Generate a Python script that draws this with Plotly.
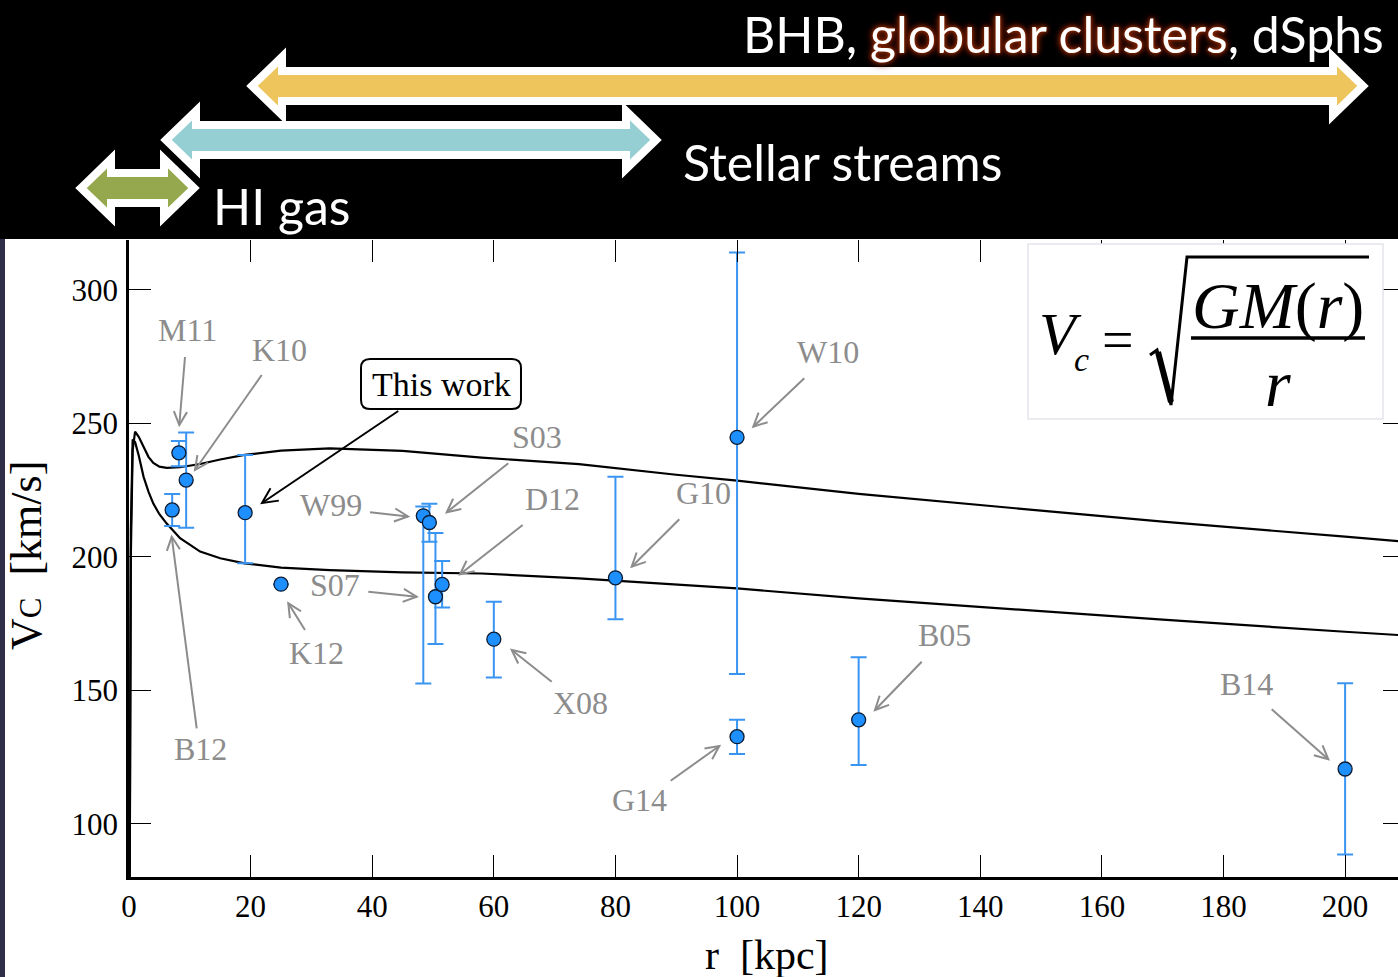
import math
import plotly.graph_objects as go

# ---------------- data ----------------
names = ["B12", "M11", "K10", "This work", "K12", "W99", "S03", "S07",
         "D12", "X08", "G10", "W10", "G14", "B05", "B14"]
r_obs = [7.1, 8.2, 9.4, 19.1, 25.0, 48.4, 49.4, 50.4, 51.5, 60.0, 80.0, 100.0, 100.0, 120.0, 200.0]
v_obs = [217.6, 239.0, 228.8, 216.6, 189.8, 215.4, 212.9, 185.1, 189.7, 169.2, 192.2, 244.8, 132.7, 139.0, 120.6]
err_plus = [6.0, 4.4, 17.8, 21.6, None, 3.5, 7.0, 23.9, 8.8, 14.0, 37.8, 69.2, 6.3, 23.4, 32.1]
err_minus = [6.0, 5.0, 17.9, 19.0, None, 62.8, 7.2, 17.7, 8.6, 14.3, 15.5, 88.6, 6.5, 16.9, 32.0]

r_model = [0, 0.3, 0.6, 1.0, 1.6, 2.4, 3.2, 4.0, 5.0, 6.2, 8.4, 11.7, 15, 19, 25, 33, 45,
           58, 74, 90, 100, 120, 143, 170, 200, 210]
v_upper = [0, 200, 240, 246.9, 245, 241, 237.5, 235.2, 233.8, 233.4, 233.6, 234.8, 236.5, 238.2,
           239.8, 240.7, 239.7, 237.2, 234.8, 230.8, 228.6, 223.6, 218.7, 213.2, 207.6, 205.7]
v_lower = [0, 210, 244, 243, 238, 230, 224.5, 220, 216, 212.5, 207, 202, 199.5, 197.6, 196,
           195.1, 194.2, 193.8, 192, 189.6, 188.2, 184.5, 180.8, 176.5, 172, 170.6]

x_ticks = [0, 20, 40, 60, 80, 100, 120, 140, 160, 180, 200]
y_ticks = [100, 150, 200, 250, 300]
x_range = [0, 208.7]
y_range = [80.15, 318.7]

# ---------------- layout helpers ----------------
W, H = 1398, 977
ML, MR, MT, MB = 129, 0, 240, 100
PW, PH = W - ML - MR, H - MT - MB


def px_x(px):
    return (px - ML) / PW


def px_y(py):
    return (H - MB - py) / PH


def dx(px):
    return x_range[0] + (px - ML) / PW * (x_range[1] - x_range[0])


def dy(py):
    return y_range[0] + (H - MB - py) / PH * (y_range[1] - y_range[0])


def ppath(pts, close=False):
    s = "M " + " L ".join(f"{px_x(x):.5f},{px_y(y):.5f}" for x, y in pts)
    return s + (" Z" if close else "")


SERIF = "Liberation Serif, Times New Roman, serif"
SANS = "Lato, Open Sans, sans-serif"
GRAY = "#8c8c8c"

fig = go.Figure()

for vv in (v_upper, v_lower):
    fig.add_trace(go.Scatter(x=r_model, y=vv, mode="lines",
                             line=dict(color="black", width=2.2),
                             showlegend=False, hoverinfo="skip", cliponaxis=True))

fig.add_trace(go.Scatter(
    x=r_obs, y=v_obs, mode="markers", showlegend=False, text=names,
    marker=dict(size=14, color="#1E8FFF", line=dict(color="#0d1b30", width=1.3)),
    error_y=dict(type="data", symmetric=False, array=err_plus, arrayminus=err_minus,
                 color="#3A95F2", thickness=2, width=8),
))

# overlay axis trace (for mirrored inside ticks without axis lines)
fig.add_trace(go.Scatter(x=[], y=[], xaxis="x2", yaxis="y2", showlegend=False, hoverinfo="skip"))

axis_common = dict(ticks="inside", ticklen=22, tickwidth=1.2, tickcolor="black",
                   showgrid=False, zeroline=False)

fig.update_layout(
    width=W, height=H,
    margin=dict(l=ML, r=MR, t=MT, b=MB),
    paper_bgcolor="white", plot_bgcolor="white",
    xaxis=dict(range=x_range, tickvals=x_ticks, showline=True, linecolor="black", linewidth=2.5,
               tickfont=dict(family=SERIF, size=31, color="black"), ticklabelstandoff=0,
               **axis_common),
    yaxis=dict(range=y_range, tickvals=y_ticks, showline=True, linecolor="black", linewidth=2.5,
               tickfont=dict(family=SERIF, size=31, color="black"), ticklabelstandoff=2,
               **axis_common),
    xaxis2=dict(range=x_range, tickvals=x_ticks, overlaying="x", side="top", anchor="y2",
                showticklabels=False, showline=False, **axis_common),
    yaxis2=dict(range=y_range, tickvals=y_ticks, overlaying="y", side="right", anchor="x2",
                showticklabels=False, showline=False,
                ticks="inside", ticklen=15, tickwidth=1.2, tickcolor="black",
                showgrid=False, zeroline=False),
)

shapes = []
# black header band and left strip
shapes.append(dict(type="rect", xref="paper", yref="paper", x0=px_x(0), x1=px_x(W),
                   y0=px_y(239), y1=px_y(0), fillcolor="black", line_width=0, layer="above"))
shapes.append(dict(type="rect", xref="paper", yref="paper", x0=px_x(0), x1=px_x(5),
                   y0=px_y(977), y1=px_y(239), fillcolor="#2e2e48", line_width=0, layer="above"))


def double_arrow(L, R, c, color, h=30, Hh=29, b=15):
    pts = [(L, c), (L + h, c - Hh), (L + h, c - b), (R - h, c - b), (R - h, c - Hh), (R, c),
           (R - h, c + Hh), (R - h, c + b), (L + h, c + b), (L + h, c + Hh)]
    return dict(type="path", xref="paper", yref="paper", path=ppath(pts, True), fillcolor=color,
                line=dict(color="white", width=8), layer="above")


shapes.append(double_arrow(252, 1363, 86, "#EDC55C"))
shapes.append(double_arrow(166, 656, 140, "#95CED3"))
shapes.append(double_arrow(81, 194, 188, "#96A84E"))

# formula box
shapes.append(dict(type="rect", xref="paper", yref="paper", x0=px_x(1028), x1=px_x(1383),
                   y0=px_y(419), y1=px_y(244), fillcolor="white",
                   line=dict(color="#e4e4ea", width=1.5), layer="above"))
# radical sign
rad = [(1150, 355), (1157, 350), (1171, 405), (1187, 257), (1369, 257)]
shapes.append(dict(type="path", xref="paper", yref="paper", path=ppath(rad),
                   line=dict(color="black", width=3), layer="above"))
shapes.append(dict(type="line", xref="paper", yref="paper", x0=px_x(1158), y0=px_y(352),
                   x1=px_x(1171), y1=px_y(402), line=dict(color="black", width=6), layer="above"))
# fraction bar
shapes.append(dict(type="line", xref="paper", yref="paper", x0=px_x(1191), y0=px_y(338),
                   x1=px_x(1365), y1=px_y(338), line=dict(color="black", width=3.5), layer="above"))

# rounded box for "This work"
bx0, bx1, by0, by1, rr = 361, 521, 359, 409, 9
rp = (f"M {px_x(bx0 + rr):.5f},{px_y(by0):.5f} L {px_x(bx1 - rr):.5f},{px_y(by0):.5f} "
      f"Q {px_x(bx1):.5f},{px_y(by0):.5f} {px_x(bx1):.5f},{px_y(by0 + rr):.5f} "
      f"L {px_x(bx1):.5f},{px_y(by1 - rr):.5f} "
      f"Q {px_x(bx1):.5f},{px_y(by1):.5f} {px_x(bx1 - rr):.5f},{px_y(by1):.5f} "
      f"L {px_x(bx0 + rr):.5f},{px_y(by1):.5f} "
      f"Q {px_x(bx0):.5f},{px_y(by1):.5f} {px_x(bx0):.5f},{px_y(by1 - rr):.5f} "
      f"L {px_x(bx0):.5f},{px_y(by0 + rr):.5f} "
      f"Q {px_x(bx0):.5f},{px_y(by0):.5f} {px_x(bx0 + rr):.5f},{px_y(by0):.5f} Z")
shapes.append(dict(type="path", xref="paper", yref="paper", path=rp, fillcolor="white",
                   line=dict(color="black", width=2), layer="above"))


def open_arrow(tail, tip, color, head=15, ang=26):
    (x0, y0), (x1, y1) = tail, tip
    a = math.atan2(y1 - y0, x1 - x0)
    p1 = (x1 - head * math.cos(a - math.radians(ang)), y1 - head * math.sin(a - math.radians(ang)))
    p2 = (x1 - head * math.cos(a + math.radians(ang)), y1 - head * math.sin(a + math.radians(ang)))
    return [dict(type="path", xref="paper", yref="paper", path=ppath([tail, tip]),
                 line=dict(color=color, width=2), layer="above"),
            dict(type="path", xref="paper", yref="paper", path=ppath([p1, tip, p2]),
                 line=dict(color=color, width=2), layer="above")]


annotations = []


def ptext(x, y, text, font, xanchor="center", **kw):
    return dict(xref="paper", yref="paper", x=px_x(x), y=px_y(y), text=text, showarrow=False,
                xanchor=xanchor, yanchor="middle", font=font, **kw)


GLOW = "0 0 3px #8a2800, 0 0 5px #8a2800, 0 0 7px #7a2000, 0 0 10px #5a1800"
annotations.append(ptext(1386, 34,
                         "BHB, <span style='text-shadow:" + GLOW + "'>globular clusters</span>, dSphs",
                         dict(family=SANS, size=50, color="white"), xanchor="right"))
annotations.append(ptext(681, 162, "Stellar streams", dict(family=SANS, size=50, color="white"),
                         xanchor="left"))
annotations.append(ptext(211, 206, "HI gas", dict(family=SANS, size=50, color="white"),
                         xanchor="left"))

# axis titles
annotations.append(ptext(767, 955, "r  [kpc]", dict(family=SERIF, size=42, color="black")))
annotations.append(ptext(26, 555, "V<span style='font-size:31px'>C</span>  [km/s]",
                         dict(family=SERIF, size=44, color="black"), textangle=-90))

# formula text
annotations += [
    ptext(1060, 334, "<i>V</i>", dict(family=SERIF, size=60, color="black")),
    ptext(1081, 359, "<i>c</i>", dict(family=SERIF, size=34, color="black")),
    ptext(1118, 340, "=", dict(family=SERIF, size=56, color="black")),
    ptext(1278, 306, "<i>GM</i>(<i>r</i>)", dict(family=SERIF, size=66, color="black")),
    ptext(1278, 383, "<i>r</i>", dict(family=SERIF, size=66, color="black")),
]

# labels: name -> (text px, tail px, tip px)
label_layout = {
    "M11": ((187, 330), (185, 357), (179.3, 425)),
    "K10": ((279, 350), (261.7, 375), (195, 470)),
    "W99": ((331, 505), (370, 512.3), (408, 516.5)),
    "S03": ((537, 437), (508.3, 463.3), (446.7, 512.3)),
    "D12": ((552, 499), (522.7, 525), (460, 574.3)),
    "S07": ((335, 585), (368.3, 591.7), (416.7, 596.7)),
    "K12": ((316, 653), (305, 630), (288.3, 603.3)),
    "X08": ((580, 703), (551.7, 681.7), (511.7, 650)),
    "G10": ((703, 493), (679.3, 519.3), (631.7, 566.7)),
    "W10": ((828, 352), (804.3, 378.3), (753.3, 426.7)),
    "G14": ((639, 800), (670.7, 780.7), (719.3, 746)),
    "B05": ((944, 635), (921.7, 661.7), (875, 710)),
    "B14": ((1246, 684), (1271.7, 709.3), (1328.3, 759.3)),
    "B12": ((200, 749), (196.7, 728.3), (171.7, 536.7)),
}
for nm in names:
    if nm not in label_layout:
        continue
    (tx, ty), tail, tip = label_layout[nm]
    annotations.append(dict(x=dx(tx), y=dy(ty), xref="x", yref="y", text=nm, showarrow=False,
                            xanchor="center", yanchor="middle",
                            font=dict(family=SERIF, size=32, color=GRAY)))
    shapes += open_arrow(tail, tip, GRAY)

# This work text + arrow
annotations.append(dict(x=dx(441), y=dy(384), xref="x", yref="y", text="This work",
                        showarrow=False, xanchor="center", yanchor="middle",
                        font=dict(family=SERIF, size=34, color="black")))
shapes += open_arrow((398.3, 411), (262, 503), "black", head=17)

fig.update_layout(shapes=shapes, annotations=annotations)
fig.write_html("out.html", config={"displayModeBar": False},
               post_script="document.body.style.margin='0';document.body.style.background='black';")
